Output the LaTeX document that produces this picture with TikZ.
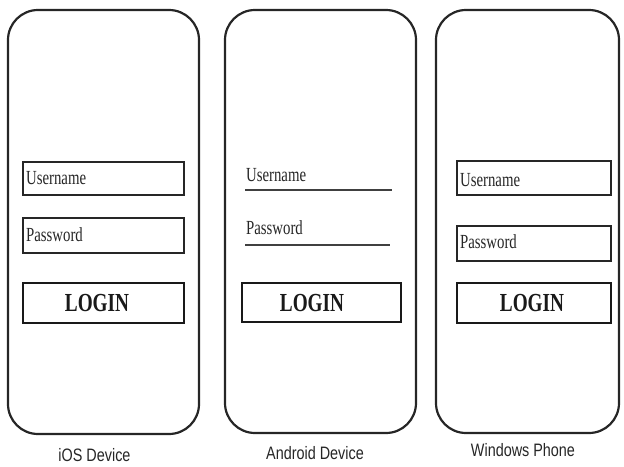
\documentclass[tikz,border=0pt]{standalone}
\usepackage{fontspec}
\setmainfont{Liberation Serif}
\newfontfamily\labelfont{Liberation Sans}
\begin{document}
\begin{tikzpicture}[x=1pt,y=-1pt,
  phone/.style={draw=black!85, line width=2.2pt, rounded corners=30pt, inner sep=0pt},
  field/.style={draw=black!85, line width=1.8pt, inner sep=0pt},
  loginbox/.style={draw=black!90, line width=2.8pt, inner sep=0pt},
  fieldtext/.style={inner sep=0pt, anchor=west, font=\fontsize{20}{22}\selectfont, xscale=0.74, text=black!85},
  logintext/.style={inner sep=0pt, font=\bfseries\fontsize{26}{28}\selectfont, xscale=0.74, text=black!90},
  devlabel/.style={inner sep=0pt, font=\labelfont\fontsize{18}{20}\selectfont, xscale=0.8, text=black!85},
  uline/.style={draw=black!75, line width=1.8pt}]
\useasboundingbox (0,0) rectangle (624,466);
% phones
\node[phone, minimum width=191pt, minimum height=424pt] (ios) at (103.5,222) {};
\node[phone, minimum width=191pt, minimum height=423pt] (and) at (320.5,221.5) {};
\node[phone, minimum width=183pt, minimum height=423pt] (win) at (527.5,221.5) {};
% iOS
\node[field, minimum width=161pt, minimum height=33pt] (iosuser) at (103.5,178.5) {};
\node[field, minimum width=161pt, minimum height=35pt] (iospass) at (103.5,235.5) {};
\node[loginbox, minimum width=161pt, minimum height=40pt] (ioslogin) at (103.5,303) {};
\node[fieldtext] (iosusert) at (26,178) {Username};
\node[fieldtext] (iospasst) at (26,235) {Password};
\node[logintext] (ioslogint) at (97,303) {LOGIN};
% Android
\coordinate (au1) at (245,190); \coordinate (au2) at (392,190);
\coordinate (ap1) at (245,245); \coordinate (ap2) at (390,245);
\draw[uline] (au1) -- (au2);
\draw[uline] (ap1) -- (ap2);
\node[fieldtext] (andusert) at (246,175) {Username};
\node[fieldtext] (andpasst) at (246,228) {Password};
\node[loginbox, minimum width=159pt, minimum height=39pt] (andlogin) at (321.5,302.5) {};
\node[logintext] (andlogint) at (312,303) {LOGIN};
% Windows
\node[field, minimum width=154pt, minimum height=34pt] (winuser) at (534,178) {};
\node[field, minimum width=154pt, minimum height=35pt] (winpass) at (534,243.5) {};
\node[loginbox, minimum width=154pt, minimum height=40pt] (winlogin) at (534,303) {};
\node[fieldtext] (winusert) at (460,180) {Username};
\node[fieldtext] (winpasst) at (460,242) {Password};
\node[logintext] (winlogint) at (532,303) {LOGIN};
% labels
\node[devlabel] (iosl) at (94.5,455) {iOS Device};
\node[devlabel] (andl) at (315,453) {Android Device};
\node[devlabel] (winl) at (523,450) {Windows Phone};
\end{tikzpicture}
\end{document}
